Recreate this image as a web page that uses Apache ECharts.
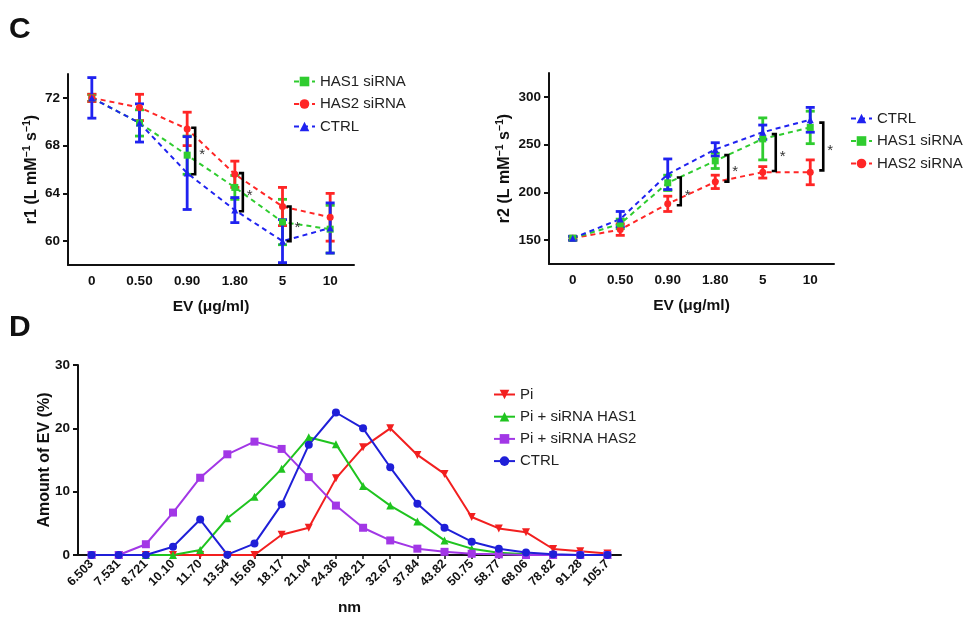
<!DOCTYPE html>
<html><head><meta charset="utf-8">
<script src="https://cdn.jsdelivr.net/npm/echarts@6.0.0/dist/echarts.min.js"></script>
<style>html,body{margin:0;padding:0;background:#fff}#c{width:964px;height:619px}</style>
</head><body><div id="c"></div>
<script>
// ---- Panel C data ----
const doseCats = ['0', '0.50', '0.90', '1.80', '5', '10'];
const r1Has1 = [72.0, 69.9, 67.2, 64.5, 61.6, 61.0];
const r1Has1Sd = [0.3, 1.1, 1.6, 1.0, 1.9, 2.0];
const r1Has2 = [72.0, 71.2, 69.4, 65.6, 62.9, 62.0];
const r1Has2Sd = [0.3, 1.1, 1.4, 1.1, 1.6, 2.0];
const r1Ctrl = [72.0, 69.9, 65.7, 62.6, 60.0, 61.1];
const r1CtrlSd = [1.7, 1.6, 3.05, 1.05, 1.8, 2.1];
const r1Ticks = [60, 64, 68, 72];
// significance brackets: [category index, low, high]
const r1Sig = [[2, 65.6, 69.5], [3, 62.5, 65.7], [4, 60.0, 62.9]];

const r2Ctrl = [152, 172, 219, 245, 263, 276];
const r2CtrlSd = [2, 8, 16, 7, 7.5, 13];
const r2Has1 = [152, 167, 210, 233, 256, 268];
const r2Has1Sd = [2, 5, 8, 8, 22, 17];
const r2Has2 = [152, 161, 188, 211, 221, 221];
const r2Has2Sd = [2, 6, 8, 7, 6, 13];
const r2Ticks = [150, 200, 250, 300];
const r2Sig = [[2, 186.5, 215.5], [3, 211.3, 239], [4, 222.4, 261], [5, 223, 273]];

// ---- Panel D data ----
const nmCats = ['6.503','7.531','8.721','10.10','11.70','13.54','15.69','18.17','21.04','24.36','28.21','32.67','37.84','43.82','50.75','58.77','68.06','78.82','91.28','105.7'];
const piVals   = [0, 0, 0, 0, 0, 0, 0, 3.2, 4.3, 12.1, 17.0, 20.0, 15.8, 12.8, 6.0, 4.2, 3.6, 0.95, 0.6, 0.25];
const has1Vals = [0, 0, 0, 0, 0.8, 5.8, 9.2, 13.6, 18.6, 17.5, 10.9, 7.8, 5.3, 2.3, 1.0, 0.35, 0.1, 0, 0, 0];
const has2Vals = [0, 0, 1.7, 6.7, 12.2, 15.9, 17.9, 16.75, 12.3, 7.8, 4.3, 2.3, 1.0, 0.5, 0.2, 0.1, 0, 0, 0, 0];
const ctrlVals = [0, 0, 0, 1.3, 5.6, 0.05, 1.8, 8.0, 17.4, 22.5, 20.0, 13.85, 8.1, 4.3, 2.1, 1.0, 0.4, 0.1, 0, 0];

const FONT = 'Liberation Sans, Arial, sans-serif';
const C_GREEN = '#2fcc2f', C_RED = '#ff2626', C_BLUE = '#1f22f0';
const D_RED = '#f21f1f', D_GREEN = '#1fc41f', D_PURPLE = '#a237e6', D_BLUE = '#1f1fd8';

function errRender(params, api) {
  const x = api.value(0), m = api.value(1), sd = api.value(2);
  const t = api.coord([x, m + sd]), b = api.coord([x, m - sd]);
  const cap = 4.5;
  const style = { stroke: api.visual('color'), lineWidth: 2.8, fill: null };
  return { type: 'group', children: [
    { type: 'line', shape: { x1: t[0], y1: t[1], x2: b[0], y2: b[1] }, style },
    { type: 'line', shape: { x1: t[0] - cap, y1: t[1], x2: t[0] + cap, y2: t[1] }, style },
    { type: 'line', shape: { x1: b[0] - cap, y1: b[1], x2: b[0] + cap, y2: b[1] }, style }
  ]};
}
function bracketRender(dx) {
  return function (params, api) {
    const x = api.value(0), lo = api.value(1), hi = api.value(2);
    const p1 = api.coord([x, hi]), p2 = api.coord([x, lo]);
    const px = p1[0] + dx;
    return { type: 'group', children: [
      { type: 'polyline', shape: { points: [[px - 4, p1[1]], [px, p1[1]], [px, p2[1]], [px - 4, p2[1]]] },
        style: { stroke: '#000', lineWidth: 2.6, fill: null } },
      { type: 'text', style: { text: '*', x: px + 4, y: (p1[1] + p2[1]) / 2 + 4, fill: '#333',
        font: '15px ' + FONT, verticalAlign: 'middle' } }
    ]};
  };
}
function dashedLine(name, data, color, symbol, gi) {
  return { name, type: 'line', xAxisIndex: gi, yAxisIndex: gi, data, symbol, symbolSize: 7,
    lineStyle: { color, width: 2, type: [5, 4] }, itemStyle: { color }, z: 3 };
}
function errSeries(name, mean, sd, color, gi) {
  return { name, type: 'custom', xAxisIndex: gi, yAxisIndex: gi, renderItem: errRender,
    itemStyle: { color }, encode: { x: 0, y: 1 }, clip: false, z: 3,
    data: mean.map((m, i) => [i, m, sd[i]]) };
}
function solidLine(name, data, color, symbol, rot) {
  return { name, type: 'line', xAxisIndex: 2, yAxisIndex: 2, data, symbol, symbolSize: 8,
    symbolRotate: rot || 0, lineStyle: { color, width: 2 }, itemStyle: { color } };
}

const axisLineStyle = { lineStyle: { color: '#111', width: 2 } };
const tickLab = { color: '#111', fontWeight: 'bold', fontSize: 13.5, fontFamily: FONT };
const nameStyle = { color: '#111', fontWeight: 'bold', fontSize: 15.5, fontFamily: FONT };
const supRich = {
  b: { fontSize: 16, fontWeight: 'bold', fontFamily: FONT, color: '#111', lineHeight: 20, verticalAlign: 'middle' },
  s: { fontSize: 10.5, fontWeight: 'bold', fontFamily: FONT, color: '#111', lineHeight: 12, verticalAlign: 'top' }
};

function catAxis(gi, cats) {
  return { type: 'category', gridIndex: gi, data: cats, boundaryGap: true,
    axisLine: axisLineStyle, axisTick: { show: false },
    axisLabel: Object.assign({ margin: 9, interval: 0 }, tickLab),
    name: 'EV (\u03BCg/ml)', nameLocation: 'middle', nameGap: 34, nameTextStyle: nameStyle };
}
function valAxis(gi, min, max, ticks, name, gap) {
  return { type: 'value', gridIndex: gi, min, max, splitLine: { show: false },
    axisLine: Object.assign({ show: true }, axisLineStyle),
    axisTick: { show: true, length: 5, lineStyle: { color: '#111', width: 2 }, customValues: ticks },
    axisLabel: Object.assign({ margin: 8, customValues: ticks }, tickLab),
    name, nameLocation: 'middle', nameGap: gap, nameMoveOverlap: false, nameTextStyle: { rich: supRich } };
}

const option = {
  backgroundColor: '#fff',
  animation: false,
  grid: [
    { left: 68, top: 74, width: 286, height: 191 },
    { left: 549, top: 73, width: 285, height: 191 },
    { left: 78, top: 365, width: 543, height: 190 }
  ],
  xAxis: [
    catAxis(0, doseCats),
    catAxis(1, doseCats),
    { type: 'category', gridIndex: 2, data: nmCats, boundaryGap: true,
      axisLine: axisLineStyle,
      axisTick: { show: true, alignWithLabel: true, length: 4, lineStyle: { color: '#111', width: 1.5 } },
      axisLabel: Object.assign({}, tickLab, { interval: 0, rotate: 45, margin: 7, fontSize: 12.5 }),
      name: 'nm', nameLocation: 'middle', nameGap: 45, nameTextStyle: nameStyle }
  ],
  yAxis: [
    valAxis(0, 58, 74, r1Ticks, '{b|r1 (L mM}{s|\u22121}{b| s}{s|\u22121}{b|)}', 26),
    valAxis(1, 125, 325, r2Ticks, '{b|r2 (L mM}{s|\u22121}{b| s}{s|\u22121}{b|)}', 34),
    { type: 'value', gridIndex: 2, min: 0, max: 30, interval: 10, splitLine: { show: false },
      axisLine: Object.assign({ show: true }, axisLineStyle),
      axisTick: { show: true, length: 5, lineStyle: { color: '#111', width: 2 } },
      axisLabel: Object.assign({ margin: 8 }, tickLab),
      name: 'Amount of EV (%)', nameLocation: 'middle', nameGap: 25, nameMoveOverlap: false,
      nameTextStyle: Object.assign({}, nameStyle, { fontSize: 16 }) }
  ],
  legend: [
    { data: ['HAS1 siRNA', 'HAS2 siRNA', 'CTRL'], orient: 'vertical', left: 288, top: 69,
      itemWidth: 21, itemHeight: 12, itemGap: 7.5, selectedMode: false,
      textStyle: { fontSize: 15, color: '#222', fontFamily: FONT } },
    { data: ['CTRL', 'HAS1 siRNA', 'HAS2 siRNA'], orient: 'vertical', left: 845, top: 106,
      itemWidth: 21, itemHeight: 12, itemGap: 7.5, selectedMode: false,
      textStyle: { fontSize: 15, color: '#222', fontFamily: FONT } },
    { data: ['Pi', 'Pi + siRNA HAS1', 'Pi + siRNA HAS2', 'CTRL '], orient: 'vertical', left: 488, top: 382,
      itemWidth: 21, itemHeight: 12, itemGap: 7.2, selectedMode: false,
      textStyle: { fontSize: 15, color: '#222', fontFamily: FONT } }
  ],
  graphic: [
    { type: 'text', left: 9, top: 15, style: { text: 'C', font: 'bold 30px ' + FONT, fill: '#111' } },
    { type: 'text', left: 9, top: 313, style: { text: 'D', font: 'bold 30px ' + FONT, fill: '#111' } }
  ],
  series: [
    // Panel C left
    dashedLine('HAS1 siRNA', r1Has1, C_GREEN, 'rect', 0),
    errSeries('HAS1 siRNA', r1Has1, r1Has1Sd, C_GREEN, 0),
    dashedLine('HAS2 siRNA', r1Has2, C_RED, 'circle', 0),
    errSeries('HAS2 siRNA', r1Has2, r1Has2Sd, C_RED, 0),
    dashedLine('CTRL', r1Ctrl, C_BLUE, 'triangle', 0),
    errSeries('CTRL', r1Ctrl, r1CtrlSd, C_BLUE, 0),
    { type: 'custom', name: 'sig1', xAxisIndex: 0, yAxisIndex: 0, renderItem: bracketRender(8),
      encode: { x: 0, y: 1 }, clip: false, z: 4, data: r1Sig },
    // Panel C right
    dashedLine('HAS2 siRNA', r2Has2, C_RED, 'circle', 1),
    errSeries('HAS2 siRNA', r2Has2, r2Has2Sd, C_RED, 1),
    dashedLine('HAS1 siRNA', r2Has1, C_GREEN, 'rect', 1),
    errSeries('HAS1 siRNA', r2Has1, r2Has1Sd, C_GREEN, 1),
    dashedLine('CTRL', r2Ctrl, C_BLUE, 'triangle', 1),
    errSeries('CTRL', r2Ctrl, r2CtrlSd, C_BLUE, 1),
    { type: 'custom', name: 'sig2', xAxisIndex: 1, yAxisIndex: 1, renderItem: bracketRender(13),
      encode: { x: 0, y: 1 }, clip: false, z: 4, data: r2Sig },
    // Panel D
    solidLine('Pi', piVals, D_RED, 'triangle', 180),
    solidLine('Pi + siRNA HAS1', has1Vals, D_GREEN, 'triangle'),
    solidLine('Pi + siRNA HAS2', has2Vals, D_PURPLE, 'rect'),
    solidLine('CTRL ', ctrlVals, D_BLUE, 'circle')
  ]
};
const chart = echarts.init(document.getElementById('c'));
chart.setOption(option);
</script>
</body></html>
